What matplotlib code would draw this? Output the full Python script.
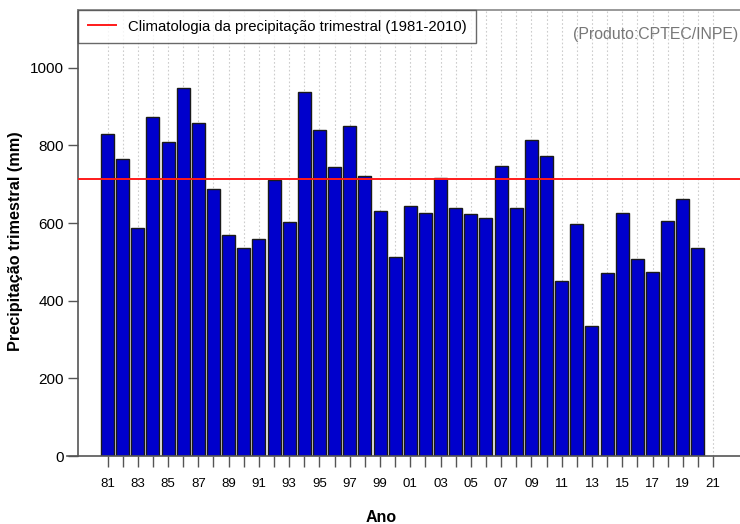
import numpy as np
import matplotlib.pyplot as plt
import matplotlib.transforms as mtransforms

plt.rcParams['font.family'] = ['Liberation Sans', 'DejaVu Sans']

# seasonal (3-month) precipitation, mm
years = list(range(1981, 2021))
precip = [829, 765, 588, 874, 810, 949, 857, 689, 569, 537,
          558, 711, 604, 937, 841, 745, 851, 722, 631, 513,
          643, 626, 716, 640, 623, 612, 747, 638, 814, 773,
          451, 597, 335, 472, 626, 507, 474, 606, 662, 535]
climatology = 713
tick_years = list(range(1981, 2022))
y_ticks = [0, 200, 400, 600, 800, 1000]

fig = plt.figure(figsize=(7.4, 5.24), dpi=100)
ax = fig.add_axes([78 / 740, 68 / 524, 1 - 78 / 740, 446 / 524])

# dotted grid, one per year
for yr in tick_years:
    ax.axvline(yr, color='#cccccc', lw=0.8, ls=(0, (1.5, 2)), zorder=0)

ax.bar(years, precip, width=0.86, color='#0000cc', edgecolor='#1a1a1a',
       linewidth=1.0, zorder=2)

line, = ax.plot([1900, 2100], [climatology, climatology], color='#ff1a1a', lw=1.4, zorder=3,
                label='Climatologia da precipitação trimestral (1981-2010)')

ax.set_xlim(1979.05, 2022.78)
ax.set_ylim(0, 1149)

# baseline at 0, slightly left of the y axis
trans = mtransforms.blended_transform_factory(ax.transAxes, ax.transData)
ax.plot([-0.016, 1.0], [0, 0], color='#555555', lw=1.2, transform=trans, clip_on=False, zorder=4)

for side in ['right', 'bottom']:
    ax.spines[side].set_visible(False)
ax.spines['left'].set_color('#555555')
ax.spines['left'].set_linewidth(1.2)
ax.spines['top'].set_color('#888888')
ax.spines['top'].set_linewidth(1.2)

ax.set_yticks(y_ticks)
ax.set_yticklabels([str(v) for v in y_ticks], fontsize=11)
ax.set_xticks(tick_years)
ax.set_xticklabels(['%02d' % (y % 100) if y % 2 == 1 else '' for y in tick_years], fontsize=9.5)
ax.tick_params(axis='y', length=7, width=1, color='#555555', pad=3)
ax.tick_params(axis='x', length=8, width=1, color='#555555', pad=8)

ax.set_ylabel('Precipitação trimestral (mm)', fontsize=11.7, fontweight='bold', labelpad=5)
ax.set_xlabel('Ano', fontsize=11.5, fontweight='bold', labelpad=14)
ax.xaxis.label.set_x((381 - 78) / 662)
ax.yaxis.label.set_y((456 - 241) / 446)

leg = ax.legend(handles=[line], loc='upper left', bbox_to_anchor=(0, 1), borderaxespad=0,
                fontsize=10.7, frameon=True, fancybox=False, handlelength=1.9,
                borderpad=0.65, handletextpad=0.8)
leg.get_frame().set_edgecolor('#444444')
leg.get_frame().set_linewidth(1.0)

fig.text(738 / 740, 1 - 35 / 524, '(Produto:CPTEC/INPE)', ha='right', va='center',
         fontsize=11.4, color='#777777')

fig.savefig('out.png', dpi=100)
